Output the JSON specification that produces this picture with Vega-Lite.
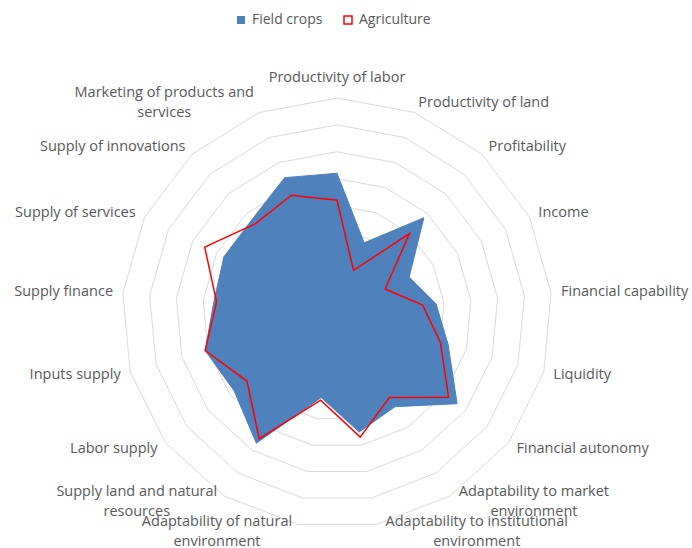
{
  "$schema": "https://vega.github.io/schema/vega-lite/v6.json",
  "width": 692,
  "height": 548,
  "padding": 0,
  "autosize": {"type": "none"},
  "background": "white",
  "config": {
    "view": {"stroke": null},
    "font": "Open Sans",
    "locale": {"number": {"decimal": ",", "thousands": " ", "grouping": [3], "currency": ["", ""]}}
  },
  "datasets": {
    "scores": [
      {"axis": "Productivity of labor", "series": "Field crops", "value": 0.52},
      {"axis": "Productivity of land", "series": "Field crops", "value": 0.28},
      {"axis": "Profitability", "series": "Field crops", "value": 0.48},
      {"axis": "Income", "series": "Field crops", "value": 0.30},
      {"axis": "Financial capability", "series": "Field crops", "value": 0.37},
      {"axis": "Liquidity", "series": "Field crops", "value": 0.43},
      {"axis": "Financial autonomy", "series": "Field crops", "value": 0.56},
      {"axis": "Adaptability to market\nenvironment", "series": "Field crops", "value": 0.41},
      {"axis": "Adaptability to institutional\nenvironment", "series": "Field crops", "value": 0.45},
      {"axis": "Adaptability of natural\nenvironment", "series": "Field crops", "value": 0.32},
      {"axis": "Supply land and natural\nresources", "series": "Field crops", "value": 0.57},
      {"axis": "Labor supply", "series": "Field crops", "value": 0.48},
      {"axis": "Inputs supply", "series": "Field crops", "value": 0.51},
      {"axis": "Supply finance", "series": "Field crops", "value": 0.46},
      {"axis": "Supply of services", "series": "Field crops", "value": 0.47},
      {"axis": "Supply of innovations", "series": "Field crops", "value": 0.47},
      {"axis": "Marketing of products and\nservices", "series": "Field crops", "value": 0.54},
      {"axis": "Productivity of labor", "series": "Agriculture", "value": 0.42},
      {"axis": "Productivity of land", "series": "Agriculture", "value": 0.17},
      {"axis": "Profitability", "series": "Agriculture", "value": 0.40},
      {"axis": "Income", "series": "Agriculture", "value": 0.20},
      {"axis": "Financial capability", "series": "Agriculture", "value": 0.32},
      {"axis": "Liquidity", "series": "Agriculture", "value": 0.40},
      {"axis": "Financial autonomy", "series": "Agriculture", "value": 0.52},
      {"axis": "Adaptability to market\nenvironment", "series": "Agriculture", "value": 0.37},
      {"axis": "Adaptability to institutional\nenvironment", "series": "Agriculture", "value": 0.47},
      {"axis": "Adaptability of natural\nenvironment", "series": "Agriculture", "value": 0.33},
      {"axis": "Supply land and natural\nresources", "series": "Agriculture", "value": 0.55},
      {"axis": "Labor supply", "series": "Agriculture", "value": 0.42},
      {"axis": "Inputs supply", "series": "Agriculture", "value": 0.51},
      {"axis": "Supply finance", "series": "Agriculture", "value": 0.45},
      {"axis": "Supply of services", "series": "Agriculture", "value": 0.55},
      {"axis": "Supply of innovations", "series": "Agriculture", "value": 0.45},
      {"axis": "Marketing of products and\nservices", "series": "Agriculture", "value": 0.47}
    ],
    "ticks": [
      {"tick": 0}, {"tick": 0.1}, {"tick": 0.2}, {"tick": 0.3}, {"tick": 0.4},
      {"tick": 0.5}, {"tick": 0.6}, {"tick": 0.7}, {"tick": 0.8}
    ]
  },
  "encoding": {
    "x": {"field": "px", "type": "quantitative", "scale": {"domain": [-1.254, 1.3209], "nice": false, "zero": false}, "axis": null},
    "y": {"field": "py", "type": "quantitative", "scale": {"domain": [-0.8744, 1.1647], "nice": false, "zero": false}, "axis": null}
  },
  "layer": [
    {
      "data": {"name": "scores"},
      "transform": [
        {"filter": "datum.series === 'Field crops'"},
        {"window": [{"op": "row_number", "as": "idx"}]},
        {"calculate": "(datum.idx - 1) * 2 * PI / 17", "as": "angle"},
        {"calculate": "[0.1, 0.2, 0.3, 0.4, 0.5, 0.6, 0.7, 0.8]", "as": "lv"},
        {"flatten": ["lv"]},
        {"calculate": "datum.lv * sin(datum.angle)", "as": "px"},
        {"calculate": "datum.lv * cos(datum.angle)", "as": "py"}
      ],
      "mark": {"type": "line", "interpolate": "linear-closed", "stroke": "#D9D9D9", "strokeWidth": 1},
      "encoding": {
        "detail": {"field": "lv", "type": "nominal"},
        "order": {"field": "idx", "type": "quantitative"}
      }
    },
    {
      "data": {"name": "scores"},
      "transform": [
        {"filter": "datum.series === 'Field crops'"},
        {"window": [{"op": "row_number", "as": "idx"}]},
        {"calculate": "(datum.idx - 1) * 2 * PI / 17", "as": "angle"},
        {"calculate": "datum.value * sin(datum.angle)", "as": "px"},
        {"calculate": "datum.value * cos(datum.angle)", "as": "py"}
      ],
      "mark": {"type": "line", "interpolate": "linear-closed", "filled": true, "stroke": "#4F81BD", "strokeWidth": 1},
      "encoding": {
        "fill": {
          "field": "series", "type": "nominal",
          "scale": {"domain": ["Field crops"], "range": ["#4F81BD"]},
          "legend": {
            "orient": "none", "legendX": 234, "legendY": 13, "direction": "horizontal", "title": null,
            "symbolType": "square", "symbolSize": 64, "symbolStrokeWidth": 0, "labelFontSize": 14, "labelColor": "#595959",
            "labelFont": "Open Sans", "labelOffset": 4
          }
        },
        "order": {"field": "idx", "type": "quantitative"}
      }
    },
    {
      "data": {"name": "scores"},
      "transform": [
        {"filter": "datum.series === 'Agriculture'"},
        {"window": [{"op": "row_number", "as": "idx"}]},
        {"calculate": "(datum.idx - 1) * 2 * PI / 17", "as": "angle"},
        {"calculate": "datum.value * sin(datum.angle)", "as": "px"},
        {"calculate": "datum.value * cos(datum.angle)", "as": "py"}
      ],
      "mark": {"type": "line", "interpolate": "linear-closed", "strokeWidth": 1.5},
      "encoding": {
        "stroke": {
          "field": "series", "type": "nominal",
          "scale": {"domain": ["Agriculture"], "range": ["#FF0000"]},
          "legend": {
            "orient": "none", "legendX": 341, "legendY": 13, "direction": "horizontal", "title": null,
            "symbolType": "square", "symbolSize": 64, "symbolStrokeWidth": 1.5, "symbolFillColor": "#ffffff",
            "labelFontSize": 14, "labelColor": "#595959", "labelFont": "Open Sans", "labelOffset": 4
          }
        },
        "order": {"field": "idx", "type": "quantitative"}
      }
    },
    {
      "data": {"name": "ticks"},
      "mark": {"type": "text", "align": "right", "baseline": "middle", "dx": -15, "fontSize": 15, "color": "#595959"},
      "encoding": {
        "x": {"datum": 0, "type": "quantitative"},
        "y": {"field": "tick", "type": "quantitative"},
        "text": {"field": "tick", "type": "quantitative", "format": ".1~f"}
      }
    },
    {
      "data": {"name": "scores"},
      "transform": [
        {"filter": "datum.series === 'Field crops'"},
        {"window": [{"op": "row_number", "as": "idx"}]},
        {"filter": "datum.idx === 1"},
        {"calculate": "(datum.idx - 1) * 2 * PI / 17", "as": "angle"},
        {"calculate": "0.85 * sin(datum.angle)", "as": "px"},
        {"calculate": "0.85 * cos(datum.angle)", "as": "py"}
      ],
      "mark": {"type": "text", "align": "center", "baseline": "bottom", "fontSize": 14.5, "color": "#595959"},
      "encoding": {"text": {"field": "axis", "type": "nominal"}}
    },
    {
      "data": {"name": "scores"},
      "transform": [
        {"filter": "datum.series === 'Field crops'"},
        {"window": [{"op": "row_number", "as": "idx"}]},
        {"filter": "datum.idx >= 2 && datum.idx <= 7"},
        {"calculate": "(datum.idx - 1) * 2 * PI / 17", "as": "angle"},
        {"calculate": "0.837 * sin(datum.angle)", "as": "px"},
        {"calculate": "0.837 * cos(datum.angle)", "as": "py"}
      ],
      "mark": {"type": "text", "align": "left", "baseline": "middle", "fontSize": 14.5, "color": "#595959"},
      "encoding": {"text": {"field": "axis", "type": "nominal"}}
    },
    {
      "data": {"name": "scores"},
      "transform": [
        {"filter": "datum.series === 'Field crops'"},
        {"window": [{"op": "row_number", "as": "idx"}]},
        {"filter": "datum.idx >= 12 && datum.idx <= 16"},
        {"calculate": "(datum.idx - 1) * 2 * PI / 17", "as": "angle"},
        {"calculate": "0.837 * sin(datum.angle)", "as": "px"},
        {"calculate": "0.837 * cos(datum.angle)", "as": "py"}
      ],
      "mark": {"type": "text", "align": "right", "baseline": "middle", "fontSize": 14.5, "color": "#595959"},
      "encoding": {"text": {"field": "axis", "type": "nominal"}}
    },
    {
      "data": {"name": "scores"},
      "transform": [
        {"filter": "datum.series === 'Field crops'"},
        {"window": [{"op": "row_number", "as": "idx"}]},
        {"filter": "datum.idx === 8"},
        {"calculate": "(datum.idx - 1) * 2 * PI / 17", "as": "angle"},
        {"calculate": "0.837 * sin(datum.angle)", "as": "px"},
        {"calculate": "0.837 * cos(datum.angle)", "as": "py"}
      ],
      "mark": {"type": "text", "align": "center", "baseline": "middle", "dx": 78.5, "dy": -12.6, "fontSize": 14.5, "color": "#595959", "lineBreak": "\n", "lineHeight": 20},
      "encoding": {"text": {"field": "axis", "type": "nominal"}}
    },
    {
      "data": {"name": "scores"},
      "transform": [
        {"filter": "datum.series === 'Field crops'"},
        {"window": [{"op": "row_number", "as": "idx"}]},
        {"filter": "datum.idx === 9"},
        {"calculate": "(datum.idx - 1) * 2 * PI / 17", "as": "angle"},
        {"calculate": "0.837 * sin(datum.angle)", "as": "px"},
        {"calculate": "0.837 * cos(datum.angle)", "as": "py"}
      ],
      "mark": {"type": "text", "align": "center", "baseline": "middle", "dx": 98.4, "dy": -12.5, "fontSize": 14.5, "color": "#595959", "lineBreak": "\n", "lineHeight": 20},
      "encoding": {"text": {"field": "axis", "type": "nominal"}}
    },
    {
      "data": {"name": "scores"},
      "transform": [
        {"filter": "datum.series === 'Field crops'"},
        {"window": [{"op": "row_number", "as": "idx"}]},
        {"filter": "datum.idx === 10"},
        {"calculate": "(datum.idx - 1) * 2 * PI / 17", "as": "angle"},
        {"calculate": "0.837 * sin(datum.angle)", "as": "px"},
        {"calculate": "0.837 * cos(datum.angle)", "as": "py"}
      ],
      "mark": {"type": "text", "align": "center", "baseline": "middle", "dx": -78.7, "dy": -12.5, "fontSize": 14.5, "color": "#595959", "lineBreak": "\n", "lineHeight": 20},
      "encoding": {"text": {"field": "axis", "type": "nominal"}}
    },
    {
      "data": {"name": "scores"},
      "transform": [
        {"filter": "datum.series === 'Field crops'"},
        {"window": [{"op": "row_number", "as": "idx"}]},
        {"filter": "datum.idx === 11"},
        {"calculate": "(datum.idx - 1) * 2 * PI / 17", "as": "angle"},
        {"calculate": "0.837 * sin(datum.angle)", "as": "px"},
        {"calculate": "0.837 * cos(datum.angle)", "as": "py"}
      ],
      "mark": {"type": "text", "align": "center", "baseline": "middle", "dx": -81.8, "dy": -12.6, "fontSize": 14.5, "color": "#595959", "lineBreak": "\n", "lineHeight": 20},
      "encoding": {"text": {"field": "axis", "type": "nominal"}}
    },
    {
      "data": {"name": "scores"},
      "transform": [
        {"filter": "datum.series === 'Field crops'"},
        {"window": [{"op": "row_number", "as": "idx"}]},
        {"filter": "datum.idx === 17"},
        {"calculate": "(datum.idx - 1) * 2 * PI / 17", "as": "angle"},
        {"calculate": "0.837 * sin(datum.angle)", "as": "px"},
        {"calculate": "0.837 * cos(datum.angle)", "as": "py"}
      ],
      "mark": {"type": "text", "align": "center", "baseline": "middle", "dx": -91.5, "dy": -9.9, "fontSize": 14.5, "color": "#595959", "lineBreak": "\n", "lineHeight": 20},
      "encoding": {"text": {"field": "axis", "type": "nominal"}}
    }
  ]
}
